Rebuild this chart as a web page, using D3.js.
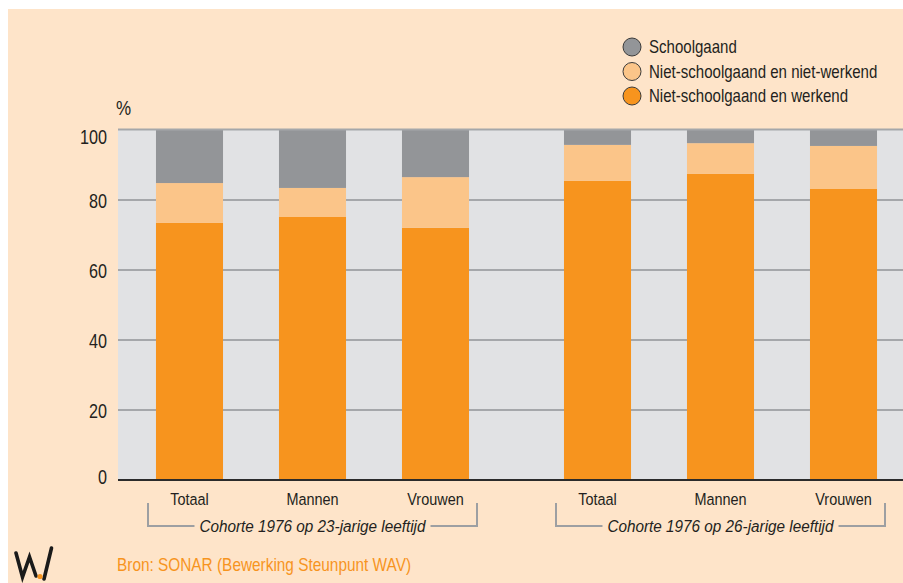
<!DOCTYPE html>
<html>
<head>
<meta charset="utf-8">
<script src="https://cdn.jsdelivr.net/npm/d3@7/dist/d3.min.js"></script>
<style>
  html, body { margin: 0; padding: 0; background: #ffffff; }
  svg { display: block; }
  text { font-family: "Liberation Sans", Arial, Helvetica, sans-serif; fill: #231f20; }
</style>
</head>
<body>
<script>
// ---- data ----
const groups = ["Cohorte 1976 op 23-jarige leeftijd", "Cohorte 1976 op 26-jarige leeftijd"];
const categories = ["Totaal", "Mannen", "Vrouwen"];
const seriesNames = ["Niet-schoolgaand en werkend", "Niet-schoolgaand en niet-werkend", "Schoolgaand"];
const werkend     = [73.3, 75.0, 71.9, 85.3, 87.3, 83.0];
const nietWerkend = [11.4,  8.3, 14.5, 10.3,  8.8, 12.3];
const schoolgaand = [15.3, 16.7, 13.6,  4.4,  3.9,  4.7];
const yTicks = [0, 20, 40, 60, 80, 100];
const source = "Bron: SONAR (Bewerking Steunpunt WAV)";

// ---- setup ----
const W = 903, H = 583;
const colors = { "Schoolgaand": "#939598", "Niet-schoolgaand en niet-werkend": "#fbc589", "Niet-schoolgaand en werkend": "#f7941e" };
const plot = { left: 118, right: 903, top: 129.5, bottom: 479.5 };

// condensed text: placed in a horizontally squeezed group
function ctext(parent, x, y, f, str) {
  return parent.append("g").attr("transform", `translate(${x},${y}) scale(${f},1)`)
    .append("text").attr("x", 0).attr("y", 0).text(str);
}

const rows = [];
groups.forEach((g, gi) => categories.forEach((c, ci) => {
  const i = gi * categories.length + ci;
  rows.push({ group: g, cat: c,
    "Niet-schoolgaand en werkend": werkend[i],
    "Niet-schoolgaand en niet-werkend": nietWerkend[i],
    "Schoolgaand": schoolgaand[i] });
}));

const svg = d3.select("body").append("svg").attr("width", W).attr("height", H);
svg.append("rect").attr("x", 8).attr("y", 9).attr("width", W - 8).attr("height", H - 9).attr("fill", "#fee4c9");

const y = d3.scaleLinear().domain([0, 100]).range([plot.bottom, plot.top]);
const xGroup = d3.scaleBand().domain(groups).range([128, 905]).paddingInner(0.0956).paddingOuter(0);
const xCat = d3.scaleBand().domain(categories).range([0, xGroup.bandwidth()]).paddingInner(0.455).paddingOuter(0.2275);

// plot background
svg.append("rect").attr("x", plot.left).attr("y", plot.top).attr("width", plot.right - plot.left)
  .attr("height", plot.bottom - plot.top).attr("fill", "#e1e2e4");

// gridlines
const grid = svg.append("g").attr("transform", `translate(${plot.left},0)`)
  .call(d3.axisLeft(y).tickValues(yTicks.filter(d => d > 0 && d < 100)).tickSize(-(plot.right - plot.left)).tickFormat(""));
grid.select(".domain").remove();
grid.selectAll("line").attr("stroke", "#a5a7aa").attr("stroke-width", 2);

// bars
const stack = d3.stack().keys(seriesNames)(rows);
svg.append("g").selectAll("g").data(stack).join("g")
  .attr("fill", d => colors[d.key])
  .selectAll("rect").data(d => d).join("rect")
  .attr("x", d => xGroup(d.data.group) + xCat(d.data.cat))
  .attr("width", xCat.bandwidth())
  .attr("y", d => y(d[1]))
  .attr("height", d => y(d[0]) - y(d[1]));

// top line (100) over the bars
svg.append("line").attr("x1", plot.left).attr("x2", plot.right).attr("y1", y(100)).attr("y2", y(100))
  .attr("stroke", "#a5a7aa").attr("stroke-width", 2);
// baseline
svg.append("line").attr("x1", plot.left).attr("x2", plot.right).attr("y1", y(0) + 0.5).attr("y2", y(0) + 0.5)
  .attr("stroke", "#2b2b2b").attr("stroke-width", 2);

// y axis labels
const yAxis = svg.append("g").attr("transform", `translate(107,0)`)
  .call(d3.axisLeft(y).tickValues(yTicks).tickSize(0).tickPadding(0));
yAxis.select(".domain").remove();
yAxis.selectAll("text").attr("font-size", 19.5).attr("fill", "#231f20")
  .style("font-family", '"Liberation Sans", Arial, sans-serif')
  .attr("dy", d => d === 100 ? 13.5 : d === 0 ? 4 : 8)
  .attr("transform", "scale(0.83,1)");
ctext(svg, 116, 115, 0.85, "%").attr("font-size", 20);

// category labels
rows.forEach(r => {
  ctext(svg, xGroup(r.group) + xCat(r.cat) + xCat.bandwidth() / 2, 505, 0.85, r.cat)
    .attr("text-anchor", "middle").attr("font-size", 17);
});

// group labels with brackets
groups.forEach(g => {
  const cx = xGroup(g) + xGroup.bandwidth() / 2;
  const half = 164.5, f = 0.9;
  const t = ctext(svg, cx, 532, f, g).attr("text-anchor", "middle")
    .attr("font-size", 17).attr("font-style", "italic");
  const tw = t.node().getComputedTextLength() * f;
  const by = 526, gap = 5;
  const path = `M${cx - half},503 V${by} H${cx - tw / 2 - gap} M${cx + tw / 2 + gap},${by} H${cx + half} V503`;
  svg.append("path").attr("d", path).attr("fill", "none").attr("stroke", "#9d9fa2").attr("stroke-width", 2);
});

// legend
const legendOrder = ["Schoolgaand", "Niet-schoolgaand en niet-werkend", "Niet-schoolgaand en werkend"];
const leg = svg.append("g").attr("transform", "translate(632,47)");
legendOrder.forEach((k, i) => {
  const gi = leg.append("g").attr("transform", `translate(0,${i * 24.5})`);
  gi.append("circle").attr("r", 9).attr("fill", colors[k]).attr("stroke", "#3a3a3a").attr("stroke-width", 1);
  ctext(gi, 17, 6, 0.86, k).attr("font-size", 17.5);
});

// source
ctext(svg, 117, 570.5, 0.855, source).attr("font-size", 18).style("fill", "#f7941e");

// logo
const logo = svg.append("g");
logo.append("path").attr("d", "M16,553 L22.5,577 L29.5,557 L36,576").attr("fill", "none")
  .attr("stroke", "#1a1a1a").attr("stroke-width", 3.6).attr("stroke-linejoin", "miter").attr("stroke-linecap", "round");
logo.append("path").attr("d", "M44,579 L51.5,548").attr("fill", "none")
  .attr("stroke", "#1a1a1a").attr("stroke-width", 3.6).attr("stroke-linecap", "round");
logo.append("circle").attr("cx", 40).attr("cy", 576.5).attr("r", 2.6).attr("fill", "#f7941e");
</script>
</body>
</html>
